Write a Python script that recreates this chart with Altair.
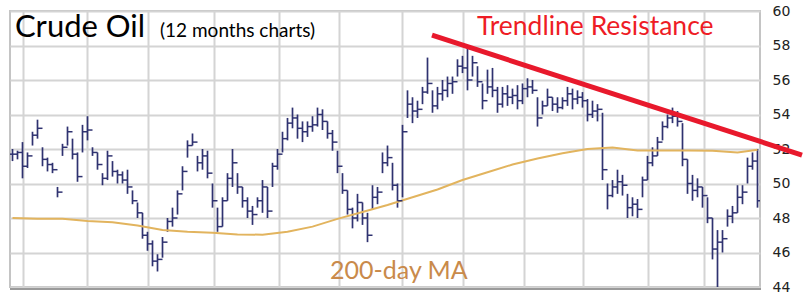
import altair as alt
import pandas as pd

# ---- price bars (daily-ish OHLC) ----
highs = [52.0, 51.9, 52.4, 51.8, 53.0, 53.7, 52.1, 51.5, 51.2, 49.8,
         52.3, 53.3, 52.6, 51.8, 53.4, 53.9, 52.1, 51.8, 50.6, 51.9,
         51.3, 50.8, 50.7, 50.8, 49.6, 48.9, 48.3, 47.2, 46.7, 45.9,
         46.9, 48.0, 48.6, 49.6, 51.0, 52.5, 52.9, 51.6, 52.0, 51.9,
         50.0, 48.6, 49.2, 50.6, 52.0, 50.6, 49.8, 49.2, 48.7, 49.2,
         50.2, 49.8, 51.2, 52.0, 53.0, 53.8, 54.4, 54.0, 53.6, 53.6,
         53.9, 54.4, 54.3, 53.6, 53.1, 51.9, 50.6, 49.6, 48.6, 49.4,
         48.9, 48.3, 49.9, 49.8, 51.8, 52.2, 51.2, 50.0, 53.4, 55.4,
         55.0, 54.8, 55.6, 57.3, 55.4, 55.6, 56.0, 56.2, 56.2, 57.2,
         57.4, 57.9, 57.4, 56.8, 55.8, 56.6, 56.7, 55.6, 55.6, 55.7,
         55.5, 55.7, 55.8, 56.1, 56.0, 55.0, 54.8, 55.5, 55.0, 55.0,
         55.0, 55.6, 55.5, 55.4, 55.3, 54.9, 54.8, 54.6, 54.1, 50.0,
         50.2, 50.8, 50.5, 49.4, 49.2, 49.1, 50.4, 51.6, 52.1, 52.7,
         53.6, 54.0, 54.4, 54.2, 53.5, 51.4, 50.5, 50.3, 49.8, 49.2,
         48.0, 47.3, 47.3, 48.5, 48.7, 49.9, 49.9, 51.5, 51.8, 52.0]
lows = [51.3, 51.4, 50.3, 50.9, 52.2, 52.6, 51.0, 50.7, 50.6, 49.2,
        51.6, 52.2, 51.4, 50.1, 51.8, 52.5, 51.6, 50.8, 49.9, 50.2,
        50.4, 50.0, 50.0, 49.4, 48.8, 48.0, 46.8, 46.1, 45.2, 44.9,
        45.7, 47.2, 47.5, 48.2, 49.6, 51.5, 52.2, 50.7, 50.8, 50.3,
        48.6, 47.2, 47.5, 49.0, 49.8, 49.4, 48.6, 48.0, 47.6, 48.6,
        48.3, 48.0, 49.8, 50.8, 51.8, 52.5, 53.2, 52.6, 52.4, 52.7,
        53.0, 53.3, 53.1, 52.6, 51.9, 50.6, 49.4, 48.2, 47.4, 47.8,
        47.6, 46.6, 48.5, 48.8, 50.6, 51.0, 49.6, 48.6, 49.2, 53.8,
        53.5, 53.8, 54.6, 55.2, 54.1, 54.3, 54.8, 55.0, 55.2, 56.2,
        56.4, 55.4, 56.2, 55.6, 54.3, 55.2, 55.0, 54.1, 54.4, 54.5,
        54.6, 54.3, 54.6, 55.0, 55.2, 53.3, 54.0, 54.5, 54.2, 54.1,
        54.3, 54.5, 54.3, 54.6, 54.4, 53.6, 53.8, 53.6, 50.2, 48.5,
        49.2, 49.4, 49.3, 48.0, 48.1, 48.0, 49.2, 50.2, 51.0, 51.6,
        52.5, 53.2, 53.5, 53.3, 51.0, 49.4, 49.0, 49.2, 48.6, 47.7,
        45.6, 44.0, 46.0, 47.5, 47.7, 48.3, 48.8, 50.0, 50.8, 48.6]
closes = [51.7, 51.8, 51.0, 51.6, 52.8, 53.2, 51.4, 51.1, 50.8, 49.5,
          52.1, 53.0, 51.7, 50.4, 53.0, 53.1, 51.8, 51.1, 50.3, 51.6,
          50.7, 50.5, 50.2, 49.8, 49.0, 48.3, 47.0, 46.5, 45.5, 45.6,
          46.6, 47.8, 48.0, 49.4, 50.7, 52.2, 52.4, 51.2, 51.6, 50.6,
          49.0, 47.5, 49.0, 50.3, 51.2, 49.8, 49.0, 48.4, 48.2, 49.0,
          49.8, 48.4, 51.0, 51.7, 52.6, 53.5, 53.8, 53.2, 53.0, 53.3,
          53.4, 54.0, 53.6, 52.9, 52.4, 51.0, 49.6, 48.5, 48.0, 48.9,
          48.0, 47.0, 49.2, 49.5, 51.2, 51.5, 49.9, 49.0, 53.0, 54.6,
          54.2, 54.3, 55.3, 55.8, 54.5, 55.2, 55.4, 55.8, 55.9, 56.8,
          56.7, 56.0, 57.0, 55.9, 54.8, 55.6, 55.4, 54.6, 55.2, 55.0,
          55.1, 54.8, 55.5, 55.6, 55.4, 53.8, 54.5, 55.0, 54.6, 54.4,
          54.8, 55.2, 54.9, 55.0, 54.8, 54.0, 54.2, 54.3, 50.8, 49.3,
          49.8, 50.1, 49.9, 48.6, 48.8, 48.5, 50.2, 51.2, 51.6, 52.4,
          53.3, 53.8, 53.9, 53.6, 51.4, 50.0, 49.6, 49.8, 49.3, 48.0,
          46.2, 46.6, 46.8, 48.1, 48.3, 49.2, 49.5, 51.0, 51.3, 49.0]

# ---- 200-day moving average (sampled every 5 bars) ----
ma_index = [0, 5, 10, 15, 20, 25, 30, 35, 40, 45, 50, 55, 60, 65, 70, 75,
            80, 85, 90, 95, 100, 105, 110, 115, 120, 125, 130, 135, 140, 145, 149]
ma_values = [48.0, 47.95, 47.95, 47.83, 47.76, 47.56, 47.3, 47.2, 47.15, 47.05,
             47.03, 47.2, 47.5, 47.95, 48.35, 48.75, 49.2, 49.65, 50.2, 50.65,
             51.1, 51.45, 51.75, 52.0, 52.08, 51.92, 51.92, 51.92, 51.9, 51.8, 51.95]

# ---- trendline resistance (start / end) ----
trend_x = [84.4, 158.4]
trend_y = [58.6, 51.65]

# ---- axes ----
month_lines = [2.6, 15.4, 27.6, 40.8, 53.8, 65.8, 78.4, 90.6, 102.8, 114.6, 127.6, 138.8]
y_ticks = [44, 46, 48, 50, 52, 54, 56, 58, 60]

n = len(closes)
df = pd.DataFrame({"i": range(n), "high": highs, "low": lows, "close": closes})
df["x"] = df["i"] + 0.5
df["open"] = df["close"].shift(1).fillna(df["close"].iloc[0])
df["xl"] = df["x"] - 0.5
df["xr"] = df["x"] + 0.5

ma_df = pd.DataFrame({"x": [v + 0.5 for v in ma_index], "ma": ma_values})
tr_df = pd.DataFrame({"x": trend_x, "y": trend_y})

xs = alt.Scale(domain=[0, n], nice=False, zero=False)
ys = alt.Scale(domain=[44, 60], nice=False, zero=False)

navy = "#2f3270"
grid_col = "#d4d4d4"

# axes-only layer (draws grid + right labels)
axes_layer = alt.Chart(pd.DataFrame({"x": [0], "y": [44]})).mark_point(opacity=0).encode(
    x=alt.X("x:Q", scale=xs, axis=alt.Axis(values=month_lines, grid=True, labels=False,
                                           ticks=False, domain=False, title=None,
                                           gridColor=grid_col, gridWidth=2)),
    y=alt.Y("y:Q", scale=ys, axis=alt.Axis(orient="right", values=y_ticks, grid=True,
                                           gridColor=grid_col, gridWidth=2, ticks=False,
                                           domain=False, title=None, labelPadding=12,
                                           labelOverlap=False, labelFlush=False,
                                           labelFont="DejaVu Sans", labelFontSize=14,
                                           labelColor="#222222")),
)

hl = alt.Chart(df).mark_rule(color=navy, strokeWidth=1.7).encode(
    x=alt.X("x:Q", scale=xs, axis=None), y=alt.Y("low:Q", scale=ys, axis=None), y2="high:Q")
close_tick = alt.Chart(df).mark_rule(color=navy, strokeWidth=1.5).encode(
    x=alt.X("x:Q", scale=xs, axis=None), x2="xr:Q", y=alt.Y("close:Q", scale=ys, axis=None))
open_tick = alt.Chart(df).mark_rule(color=navy, strokeWidth=1.5).encode(
    x=alt.X("xl:Q", scale=xs, axis=None), x2="x:Q", y=alt.Y("open:Q", scale=ys, axis=None))

ma_line = alt.Chart(ma_df).mark_line(color="#e2b45e", strokeWidth=2).encode(
    x=alt.X("x:Q", scale=xs, axis=None), y=alt.Y("ma:Q", scale=ys, axis=None))

trend = alt.Chart(tr_df).mark_line(color="#e8192c", strokeWidth=5, clip=False).encode(
    x=alt.X("x:Q", scale=xs, axis=None), y=alt.Y("y:Q", scale=ys, axis=None))

one = pd.DataFrame({"a": [0]})
def label(txt, x, y, size, color, font="Lato"):
    return alt.Chart(one).mark_text(text=txt, align="left", baseline="alphabetic",
                                    font=font, fontSize=size, color=color).encode(
        x=alt.value(x), y=alt.value(y))

shadow = alt.Chart(one).mark_rule(color="#9a9a9a", strokeWidth=2).encode(
    x=alt.value(0), x2=alt.value(751), y=alt.value(278))

chart = alt.layer(
    axes_layer, hl, ma_line, close_tick, open_tick, trend, shadow,
    label("Crude Oil", 5, 26, 31, "#000000"),
    label("(12 months charts)", 150, 26, 19, "#000000"),
    label("Trendline Resistance", 467, 24, 26.5, "#ee1c25"),
    label("200-day MA", 320, 268, 25, "#c98a4b"),
).resolve_axis(
    x="independent", y="independent"
).properties(
    width=750, height=276,
    autosize=alt.AutoSizeParams(type="none"),
    padding={"left": 10, "top": 11, "right": 47, "bottom": 14},
).configure_view(
    stroke="#c4c4c4", strokeWidth=2
)

chart.save("out.html", embed_options={"renderer": "svg", "actions": False})
